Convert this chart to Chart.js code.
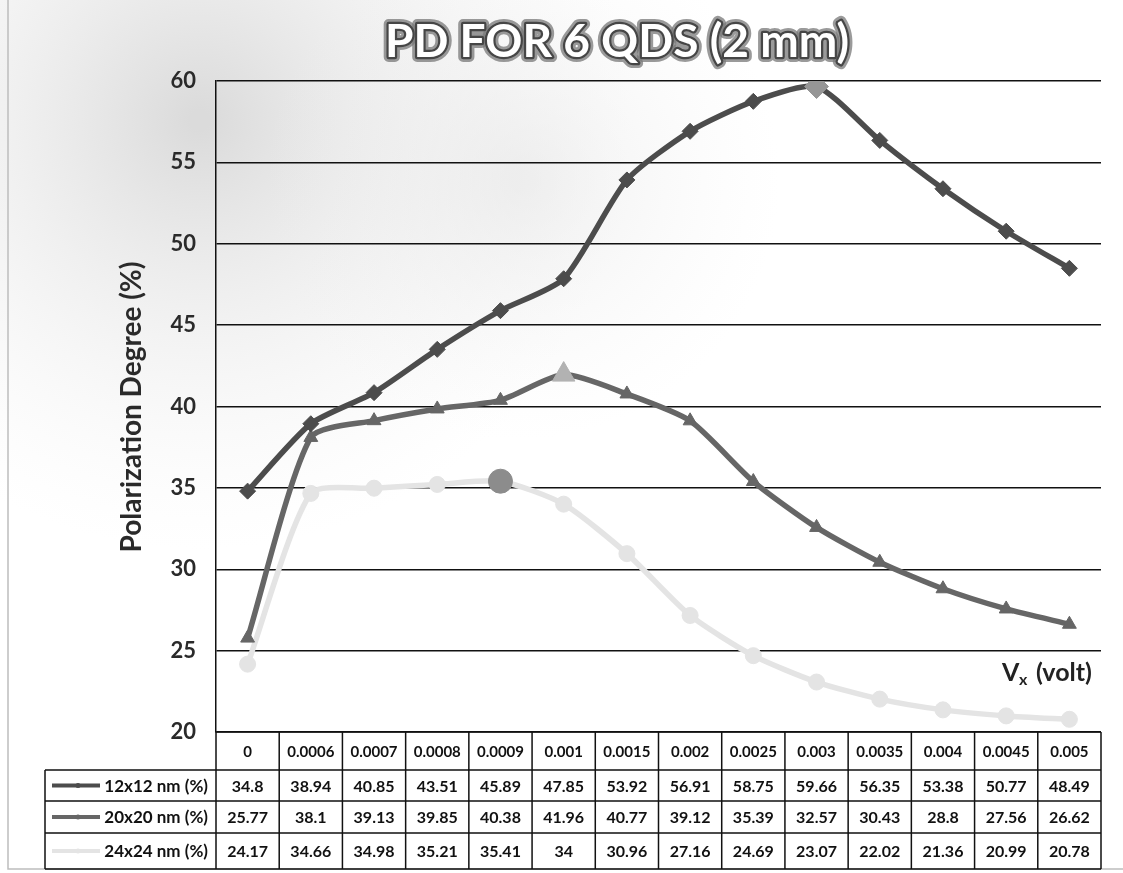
<!DOCTYPE html>
<html>
<head>
<meta charset="utf-8">
<script src="https://cdn.jsdelivr.net/npm/chart.js@4"></script>
<style>
   html, body { margin: 0; padding: 0; background: #fff; }
   #wrap { width: 1123px; height: 873px; position: relative; }
</style>
</head>
<body>
<div id="wrap"><canvas id="pdChart" width="1123" height="873"></canvas></div>
<script>
// #region Data
const voltLabels = ['0', '0.0006', '0.0007', '0.0008', '0.0009', '0.001', '0.0015', '0.002', '0.0025', '0.003', '0.0035', '0.004', '0.0045', '0.005'];
const seriesNames = ['12x12 nm (%)', '20x20 nm (%)', '24x24 nm (%)'];
const pd12 = [34.8, 38.94, 40.85, 43.51, 45.89, 47.85, 53.92, 56.91, 58.75, 59.66, 56.35, 53.38, 50.77, 48.49];
const pd20 = [25.77, 38.1, 39.13, 39.85, 40.38, 41.96, 40.77, 39.12, 35.39, 32.57, 30.43, 28.8, 27.56, 26.62];
const pd24 = [24.17, 34.66, 34.98, 35.21, 35.41, 34, 30.96, 27.16, 24.69, 23.07, 22.02, 21.36, 20.99, 20.78];
const peakIndex = [9, 5, 4];
// #endregion

const FONT = 'Lato, "Open Sans", sans-serif';
const lineColors = ['rgb(76,76,76)', 'rgb(102,102,102)', 'rgb(228,228,228)'];
const peakColors = ['rgb(150,150,150)', 'rgb(178,178,178)', 'rgb(140,140,140)'];
const markerStyles = ['rectRot', 'triangle', 'circle'];

// build per point arrays so the peak marker stands out
function pointArr(i, normal, peak) {
   return voltLabels.map((v, k) => k === peakIndex[i] ? peak : normal);
}

function makeDataset(i, values) {
   return {
      label: seriesNames[i],
      data: values,
      borderColor: lineColors[i],
      borderWidth: 5.5,
      tension: 0.22,
      pointStyle: markerStyles[i],
      pointRadius: pointArr(i, 8, i === 1 ? 13 : 12),
      pointBackgroundColor: pointArr(i, lineColors[i], peakColors[i]),
      pointBorderColor: pointArr(i, lineColors[i], peakColors[i]),
      pointBorderWidth: 1
   };
}

// background wash, title, axis labels and data table
const decorPlugin = {
   id: 'decor',
   beforeDraw(chart) {
      const ctx = chart.ctx;
      ctx.save();
      ctx.fillStyle = '#fff';
      ctx.fillRect(0, 0, chart.width, chart.height);
      let g = ctx.createRadialGradient(200, 120, 10, 200, 120, 430);
      g.addColorStop(0, 'rgba(195,195,195,0.6)');
      g.addColorStop(1, 'rgba(235,235,235,0)');
      ctx.fillStyle = g;
      ctx.fillRect(0, 0, 700, 700);
      g = ctx.createRadialGradient(520, 180, 10, 520, 180, 260);
      g.addColorStop(0, 'rgba(225,225,225,0.5)');
      g.addColorStop(1, 'rgba(240,240,240,0)');
      ctx.fillStyle = g;
      ctx.fillRect(200, 0, 700, 500);
      ctx.strokeStyle = '#bdbdbd';
      ctx.lineWidth = 1.5;
      ctx.beginPath();
      ctx.moveTo(8, 0);
      ctx.lineTo(8, 869);
      ctx.lineTo(1123, 869);
      ctx.stroke();
      ctx.restore();
   },
   afterDraw(chart) {
      const ctx = chart.ctx;
      const xs = chart.scales.x;
      const area = chart.chartArea;
      ctx.save();

      // title with outlined look
      ctx.font = 'bold 46px ' + FONT;
      ctx.textAlign = 'center';
      ctx.textBaseline = 'middle';
      ctx.lineJoin = 'round';
      ctx.strokeStyle = 'rgba(120,120,120,0.75)';
      ctx.lineWidth = 10;
      ctx.strokeText('PD FOR 6 QDS (2 mm)', 617, 42);
      ctx.strokeStyle = 'rgb(70,70,70)';
      ctx.lineWidth = 4.5;
      ctx.strokeText('PD FOR 6 QDS (2 mm)', 617, 42);
      ctx.fillStyle = '#fff';
      ctx.fillText('PD FOR 6 QDS (2 mm)', 617, 42);

      // y axis title
      ctx.save();
      ctx.translate(132, 407);
      ctx.rotate(-Math.PI / 2);
      ctx.fillStyle = '#2a2a2a';
      ctx.font = 'bold 28px ' + FONT;
      ctx.fillText('Polarization Degree (%)', 0, 0);
      ctx.restore();

      // axis note V_x (volt)
      ctx.fillStyle = '#222';
      ctx.textAlign = 'left';
      ctx.textBaseline = 'alphabetic';
      ctx.font = 'bold 25px ' + FONT;
      ctx.fillText('V', 1002, 681);
      ctx.font = 'bold 16px ' + FONT;
      ctx.fillText('x', 1019, 685);
      ctx.font = 'bold 25px ' + FONT;
      ctx.fillText('(volt)', 1036, 681);

      // data table
      const step = xs.getPixelForValue(1) - xs.getPixelForValue(0);
      const left = area.left, right = area.right;
      const legLeft = 45;
      const rowY = [area.bottom, 770, 801, 833, 869];
      ctx.strokeStyle = '#111';
      ctx.lineWidth = 1.5;
      ctx.beginPath();
      ctx.moveTo(left, rowY[0]); ctx.lineTo(right, rowY[0]);
      for (let r = 1; r < rowY.length; r++) {
         ctx.moveTo(legLeft, rowY[r]); ctx.lineTo(right, rowY[r]);
      }
      ctx.moveTo(legLeft, rowY[1]); ctx.lineTo(legLeft, rowY[4]);
      for (let c = 0; c <= voltLabels.length; c++) {
         const x = xs.getPixelForValue(0) - step / 2 + c * step;
         ctx.moveTo(x, rowY[0]); ctx.lineTo(x, rowY[4]);
      }
      ctx.stroke();

      ctx.fillStyle = '#111';
      ctx.textAlign = 'center';
      ctx.textBaseline = 'middle';
      ctx.font = 'bold 15px ' + FONT;
      voltLabels.forEach((v, k) => {
         ctx.fillText(v, xs.getPixelForValue(k), (rowY[0] + rowY[1]) / 2 + 1);
      });
      const allRows = [pd12, pd20, pd24];
      ctx.font = 'bold 16px ' + FONT;
      allRows.forEach((vals, r) => {
         const cy = (rowY[r + 1] + rowY[r + 2]) / 2 + 1;
         vals.forEach((v, k) => {
            ctx.fillText(String(v), xs.getPixelForValue(k), cy);
         });
      });

      // legend keys inside the table
      allRows.forEach((vals, r) => {
         const cy = (rowY[r + 1] + rowY[r + 2]) / 2;
         ctx.strokeStyle = lineColors[r];
         ctx.lineWidth = 4;
         ctx.beginPath();
         ctx.moveTo(52, cy); ctx.lineTo(100, cy);
         ctx.stroke();
         ctx.fillStyle = lineColors[r];
         ctx.beginPath();
         ctx.arc(78, cy, 2.5, 0, Math.PI * 2);
         ctx.fill();
         ctx.fillStyle = '#111';
         ctx.textAlign = 'right';
         ctx.font = 'bold 17px ' + FONT;
         ctx.fillText(seriesNames[r], 208, cy + 1);
      });
      ctx.restore();
   }
};

const config = {
   type: 'line',
   data: {
      labels: voltLabels,
      datasets: [makeDataset(0, pd12), makeDataset(1, pd20), makeDataset(2, pd24)]
   },
   options: {
      responsive: false,
      animation: false,
      layout: { padding: { left: 0, right: 22, top: 81, bottom: 141 } },
      plugins: {
         legend: { display: false },
         title: { display: false },
         tooltip: { enabled: false }
      },
      scales: {
         x: {
            type: 'category',
            display: false,
            offset: true
         },
         y: {
            min: 20,
            max: 60,
            ticks: {
               stepSize: 5,
               padding: 20,
               color: '#2a2a2a',
               font: { family: FONT, size: 22, weight: 'bold' }
            },
            grid: { color: '#111', lineWidth: 1.5, drawTicks: false },
            border: { display: true, color: '#111', width: 1.5 },
            afterFit(scale) { scale.width = 216; }
         }
      }
   },
   plugins: [decorPlugin]
};

const pdChart = new Chart(document.getElementById('pdChart'), config);
</script>
</body>
</html>
